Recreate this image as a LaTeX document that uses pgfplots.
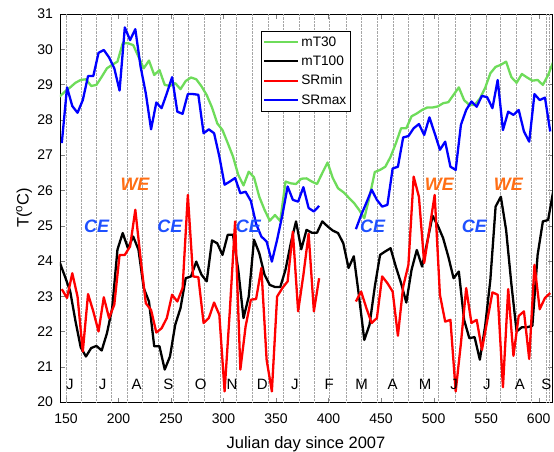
\documentclass[border=0pt]{standalone}
\usepackage{pgfplots}
\pgfplotsset{compat=1.18}
\usepackage{fontspec}
\setmainfont{Liberation Sans}
\definecolor{mgreen}{RGB}{110,220,90}
\definecolor{ceblue}{RGB}{30,80,255}
\definecolor{weorange}{RGB}{255,110,20}
\begin{document}
\begin{tikzpicture}
\useasboundingbox (-60pt,-49pt) rectangle (494pt,402pt);
\begin{axis}[
 at={(0pt,0pt)}, anchor=south west,
 width=492pt, height=388pt, scale only axis,
 xmin=144.3, xmax=612.7, ymin=20, ymax=31,
 xtick={150,200,...,600}, ytick={20,21,...,31},
 tick align=inside, major tick length=4.5pt,
 /pgf/number format/assume math mode=true,
 /pgf/number format/1000 sep={},
 ticklabel style={font=\fontsize{14}{16}\selectfont},
 xticklabel style={yshift=-8pt},
 yticklabel style={xshift=-3.5pt},
 xlabel={Julian day since 2007},
 ylabel={T(\textsuperscript{o}C)},
 label style={font=\fontsize{16.5}{19}\selectfont},
 xlabel style={at={(axis description cs:0.5,-0.1186)}, anchor=base},
 ylabel style={at={(axis description cs:-0.073,0.5)}, anchor=center},
 extra x ticks={150.6,164.3,179.2,193.5,208.7,222.6,237.9,252.2,266.4,281.7,297,312.5,327.2,342.1,356.9,372,386.2,401,416.6,431.5,446.4,461.6,475.9,490.2,504.5,520.4,534.7,549.9,563.9,578.5,592.5,607.2,610.5},
 extra x tick labels={},
 extra x tick style={grid=major, major grid style={densely dotted, gray!70, line width=0.5pt}, major tick length=0pt},
 unbounded coords=jump,
 axis line style={line width=0.6pt},
 legend style={at={(0.408,0.957)}, anchor=north west, font=\fontsize{13.7}{15}\selectfont, draw=black, line width=0.6pt, fill=white, inner xsep=2pt, inner ysep=3.5pt, row sep=4.2pt},
 legend cell align=left,
 legend image code/.code={\draw[#1, line width=2.3pt] (0pt,0pt) -- (34pt,0pt);},
 every axis plot/.append style={line width=2.3pt, line join=round},
]
\addplot[mgreen] table {
x y
144 28.66
149 28.80
154 28.92
159 29.05
164 29.13
169 29.15
174 28.96
179 28.99
184 29.22
189 29.46
194 29.56
199 29.65
204 30.17
209 30.17
214 30.12
219 29.79
224 29.46
229 29.68
234 29.27
239 29.41
244 28.99
249 28.96
254 29.04
259 28.87
264 29.10
269 29.20
274 29.15
279 28.95
284 28.70
289 28.35
294 27.90
299 27.71
304 27.34
309 26.96
314 26.44
319 26.14
324 26.53
329 26.37
334 25.82
339 25.45
344 25.14
349 25.30
354 25.13
359 26.25
364 26.20
369 26.18
374 26.33
379 26.34
384 26.25
389 26.18
394 26.49
399 26.79
404 26.35
409 26.06
414 25.95
419 25.80
424 25.65
429 25.45
434 25.21
439 25.82
444 26.52
449 26.58
454 26.67
459 26.95
464 27.33
469 27.76
474 27.76
479 28.10
484 28.18
489 28.28
494 28.35
499 28.35
504 28.38
509 28.47
514 28.50
519 28.71
524 28.92
529 28.56
534 28.42
539 28.42
544 28.60
549 28.90
554 29.32
559 29.50
564 29.56
569 29.65
574 29.21
579 29.05
584 29.30
589 29.20
594 29.11
599 29.13
604 28.99
609 29.27
614 29.65
};
\addlegendentry{mT30}
\addplot[black] table {
x y
144 23.96
149 23.56
154 23.14
159 22.30
164 21.55
169 21.29
174 21.53
179 21.59
184 21.46
189 21.95
194 22.66
199 24.32
204 24.79
209 24.36
214 24.69
219 24.32
224 23.23
229 22.85
234 21.58
239 21.58
244 20.92
249 21.29
254 22.19
259 22.66
264 23.51
269 23.56
274 23.98
279 23.61
284 23.42
289 24.58
294 24.50
299 24.17
304 24.74
309 24.74
314 23.75
319 22.38
324 22.99
329 24.60
334 24.22
339 23.61
344 23.32
349 23.26
354 23.26
359 23.75
364 24.50
369 25.12
374 24.33
379 24.88
384 24.80
389 24.80
394 25.12
399 24.98
404 24.86
409 24.79
414 24.50
419 23.80
424 24.13
429 22.99
434 21.76
439 22.19
444 23.27
449 24.17
454 24.27
459 24.36
464 23.84
469 23.37
474 22.82
479 23.75
484 24.31
489 23.84
494 24.55
499 25.28
504 25.00
509 24.65
514 24.12
519 23.51
524 23.70
529 22.33
534 21.81
539 21.84
544 21.20
549 22.14
554 23.46
559 25.54
564 25.82
569 24.88
574 23.35
579 22.00
584 22.12
589 22.12
594 22.16
599 24.17
604 25.12
609 25.16
614 26.00
};
\addlegendentry{mT100}
\addplot[red] table {
x y
146 23.20
151 22.95
156 23.65
161 22.99
166 21.43
171 23.06
176 22.57
181 22.00
186 22.97
191 22.38
196 22.76
201 24.17
206 24.17
211 24.41
216 25.45
221 24.08
226 22.80
231 22.61
236 21.97
241 22.09
246 22.38
251 23.04
256 22.85
261 23.23
266 25.87
271 23.56
276 23.54
281 22.24
286 22.38
291 22.82
296 22.47
301 20.30
306 22.60
311 25.12
316 20.92
321 22.14
326 22.90
331 22.92
336 23.80
341 21.20
346 20.30
351 22.99
356 23.23
361 23.42
366 24.83
371 22.57
376 23.60
381 24.77
386 22.57
391 23.51
408 nan
426 22.85
431 23.13
436 22.66
441 22.24
446 22.38
451 23.56
456 23.37
461 23.13
466 21.88
471 23.27
476 23.89
481 26.39
486 25.82
491 23.94
496 24.90
501 25.87
506 23.04
511 22.28
516 22.33
521 20.30
526 21.67
531 23.23
536 22.24
541 22.33
546 21.48
551 22.30
556 23.11
561 23.04
566 20.42
571 23.20
576 21.31
581 22.44
586 22.57
591 21.22
596 23.89
601 22.63
606 22.95
611 23.09
};
\addlegendentry{SRmin}
\addplot[blue] table {
x y
146 27.34
151 28.92
156 28.39
161 28.20
166 28.56
171 29.24
176 29.24
181 29.90
186 29.98
191 29.77
196 29.46
201 28.83
206 30.62
211 30.26
216 30.57
221 29.51
226 28.75
231 27.73
236 28.49
241 28.33
246 28.75
251 29.21
256 28.23
261 28.17
266 28.73
271 28.73
276 28.71
281 27.62
286 27.73
291 27.62
296 26.96
301 26.16
306 26.25
311 26.35
316 25.92
321 25.96
326 25.70
331 25.05
336 24.69
341 24.55
346 23.98
351 24.60
356 25.30
361 26.11
366 25.73
371 25.68
376 26.09
381 25.50
386 25.40
391 25.56
408 nan
426 24.90
431 25.30
436 25.65
441 26.02
446 25.73
451 25.54
456 25.59
461 26.62
466 26.67
471 27.50
476 27.54
481 27.76
486 27.88
491 27.57
496 28.07
501 27.62
506 27.15
511 27.38
516 26.67
521 26.58
526 27.86
531 28.28
536 28.52
541 28.37
546 28.68
551 28.64
556 28.33
561 29.13
566 27.71
571 28.23
576 28.14
581 28.28
586 27.67
591 27.38
596 28.73
601 28.56
606 28.63
611 27.67
};
\addlegendentry{SRmax}
\begin{scope}[every node/.style={font=\fontsize{18}{20}\selectfont\bfseries\itshape}]
\node[text=ceblue] at (axis cs:179.2,24.97) {CE};
\node[text=ceblue] at (axis cs:249,24.97) {CE};
\node[text=ceblue] at (axis cs:323.6,24.97) {CE};
\node[text=ceblue] at (axis cs:442,24.97) {CE};
\node[text=ceblue] at (axis cs:538.7,24.97) {CE};
\node[text=weorange] at (axis cs:215.7,26.16) {WE};
\node[text=weorange] at (axis cs:505.4,26.16) {WE};
\node[text=weorange] at (axis cs:571.1,26.16) {WE};
\end{scope}
\begin{scope}[every node/.style={font=\fontsize{15}{17}\selectfont}]
\node at (axis cs:153.8,20.49) {J};
\node at (axis cs:184.9,20.49) {J};
\node at (axis cs:217.3,20.49) {A};
\node at (axis cs:247.4,20.49) {S};
\node at (axis cs:278.2,20.49) {O};
\node at (axis cs:308,20.49) {N};
\node at (axis cs:337,20.49) {D};
\node at (axis cs:368,20.49) {J};
\node at (axis cs:400.7,20.49) {F};
\node at (axis cs:431.5,20.49) {M};
\node at (axis cs:461,20.49) {A};
\node at (axis cs:491.8,20.49) {M};
\node at (axis cs:519.4,20.49) {J};
\node at (axis cs:550.6,20.49) {J};
\node at (axis cs:582.2,20.49) {A};
\node at (axis cs:607.3,20.49) {S};
\end{scope}
\end{axis}
\end{tikzpicture}
\end{document}
